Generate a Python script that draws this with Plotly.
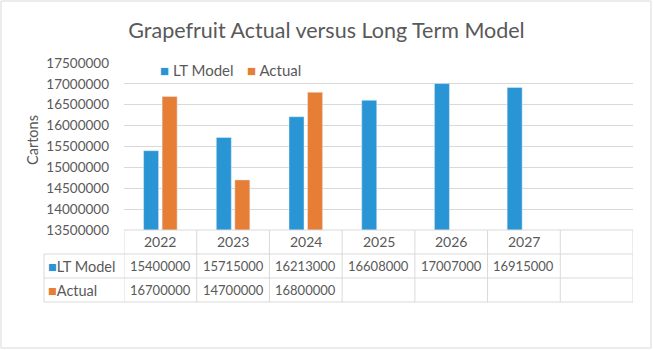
import plotly.graph_objects as go

years = ["2022", "2023", "2024", "2025", "2026", "2027"]
lt_model = [15400000, 15715000, 16213000, 16608000, 17007000, 16915000]
actual = [16700000, 14700000, 16800000, None, None, None]
series_names = ["LT Model", "Actual"]
colors = ["#2A95D5", "#E67E35"]
y_ticks = [13500000, 14000000, 14500000, 15000000, 15500000, 16000000, 16500000, 17000000, 17500000]

W, H = 653, 350
ML, MR, MT, MB = 124, 20, 63, 120
PW, PH = W - ML - MR, H - MT - MB

def px_y(py):
    return (H - MB - py) / PH

def px_x(px):
    return (px - ML) / PW

FONT = "Lato"
GRAY = "#595959"
LINE = "#D9D9D9"

fig = go.Figure()
fig.add_trace(go.Bar(x=years, y=lt_model, name=series_names[0], marker_color=colors[0], showlegend=False))
fig.add_trace(go.Bar(x=years, y=actual, name=series_names[1], marker_color=colors[1], showlegend=False))

shapes = []
annotations = []
row_bounds = [px_y(230), px_y(254), px_y(278), px_y(302)]
left_x = px_x(44)
ncols = len(years) + 1
shapes.append(dict(type="line", xref="paper", yref="paper", x0=0, x1=1, y0=row_bounds[0], y1=row_bounds[0],
                   line=dict(color=LINE, width=1)))
for rb in row_bounds[1:]:
    shapes.append(dict(type="line", xref="paper", yref="paper", x0=left_x, x1=1, y0=rb, y1=rb,
                       line=dict(color=LINE, width=1)))
for i in range(ncols + 1):
    shapes.append(dict(type="line", xref="x", yref="paper", x0=i - 0.5, x1=i - 0.5,
                       y0=row_bounds[0], y1=row_bounds[3], line=dict(color=LINE, width=1)))
shapes.append(dict(type="line", xref="paper", yref="paper", x0=left_x, x1=left_x,
                   y0=row_bounds[1], y1=row_bounds[3], line=dict(color=LINE, width=1)))
shapes.append(dict(type="rect", xref="paper", yref="paper", x0=px_x(1), x1=px_x(651),
                   y0=px_y(348), y1=px_y(1), line=dict(color=LINE, width=1)))

row_mid = [(row_bounds[i] + row_bounds[i + 1]) / 2 for i in range(3)]
for i, yr in enumerate(years):
    annotations.append(dict(x=i, y=row_mid[0], xref="x", yref="paper", xanchor="center", yanchor="middle",
                            text=yr, showarrow=False, font=dict(family=FONT, size=14, color=GRAY)))
for r, (vals, nm, col) in enumerate([(lt_model, series_names[0], colors[0]), (actual, series_names[1], colors[1])]):
    annotations.append(dict(x=px_x(46), y=row_mid[r + 1], xref="paper", yref="paper", xanchor="left",
                            yanchor="middle", text=f"<span style='color:{col}'>■</span>{nm}", showarrow=False,
                            font=dict(family=FONT, size=14.5, color=GRAY)))
    for i, v in enumerate(vals):
        if v is None:
            continue
        annotations.append(dict(x=i, y=row_mid[r + 1], xref="x", yref="paper", xanchor="center",
                                yanchor="middle", text=str(v), showarrow=False,
                                font=dict(family=FONT, size=13, color=GRAY)))
# top legend
legend_x = [158, 245]
for k, (nm, col) in enumerate(zip(series_names, colors)):
    annotations.append(dict(x=px_x(legend_x[k]), y=px_y(70), xref="paper", yref="paper", xanchor="left",
                            yanchor="middle", text=f"<span style='color:{col}'>■</span> {nm}", showarrow=False,
                            font=dict(family=FONT, size=15, color=GRAY)))
annotations.append(dict(x=px_x(32), y=px_y(140), xref="paper", yref="paper", xanchor="center", yanchor="middle",
                        text="Cartons", textangle=-90,
                        showarrow=False, font=dict(family=FONT, size=14.5, color=GRAY)))

fig.update_layout(
    width=W, height=H,
    margin=dict(l=ML, r=MR, t=MT, b=MB),
    paper_bgcolor="white", plot_bgcolor="white",
    title=dict(text="Grapefruit Actual versus Long Term Model", x=0.5, xref="container", xanchor="center",
               y=1 - 30 / H, yanchor="middle", font=dict(family=FONT, size=21.5, color=GRAY)),
    barmode="group", bargap=0.49, bargroupgap=0.19,
    showlegend=False,
    xaxis=dict(type="category", range=[-0.5, ncols - 0.5], showticklabels=False, showgrid=False,
               zeroline=False, showline=False, ticks=""),
    yaxis=dict(range=[y_ticks[0], y_ticks[-1]], tickvals=y_ticks, ticktext=[str(t) for t in y_ticks],
               showgrid=True, gridcolor=LINE, zeroline=False, showline=False,
               tickfont=dict(family=FONT, size=13.5, color=GRAY), ticklabelstandoff=14),
    shapes=shapes, annotations=annotations,
)
fig.write_html("out.html")
